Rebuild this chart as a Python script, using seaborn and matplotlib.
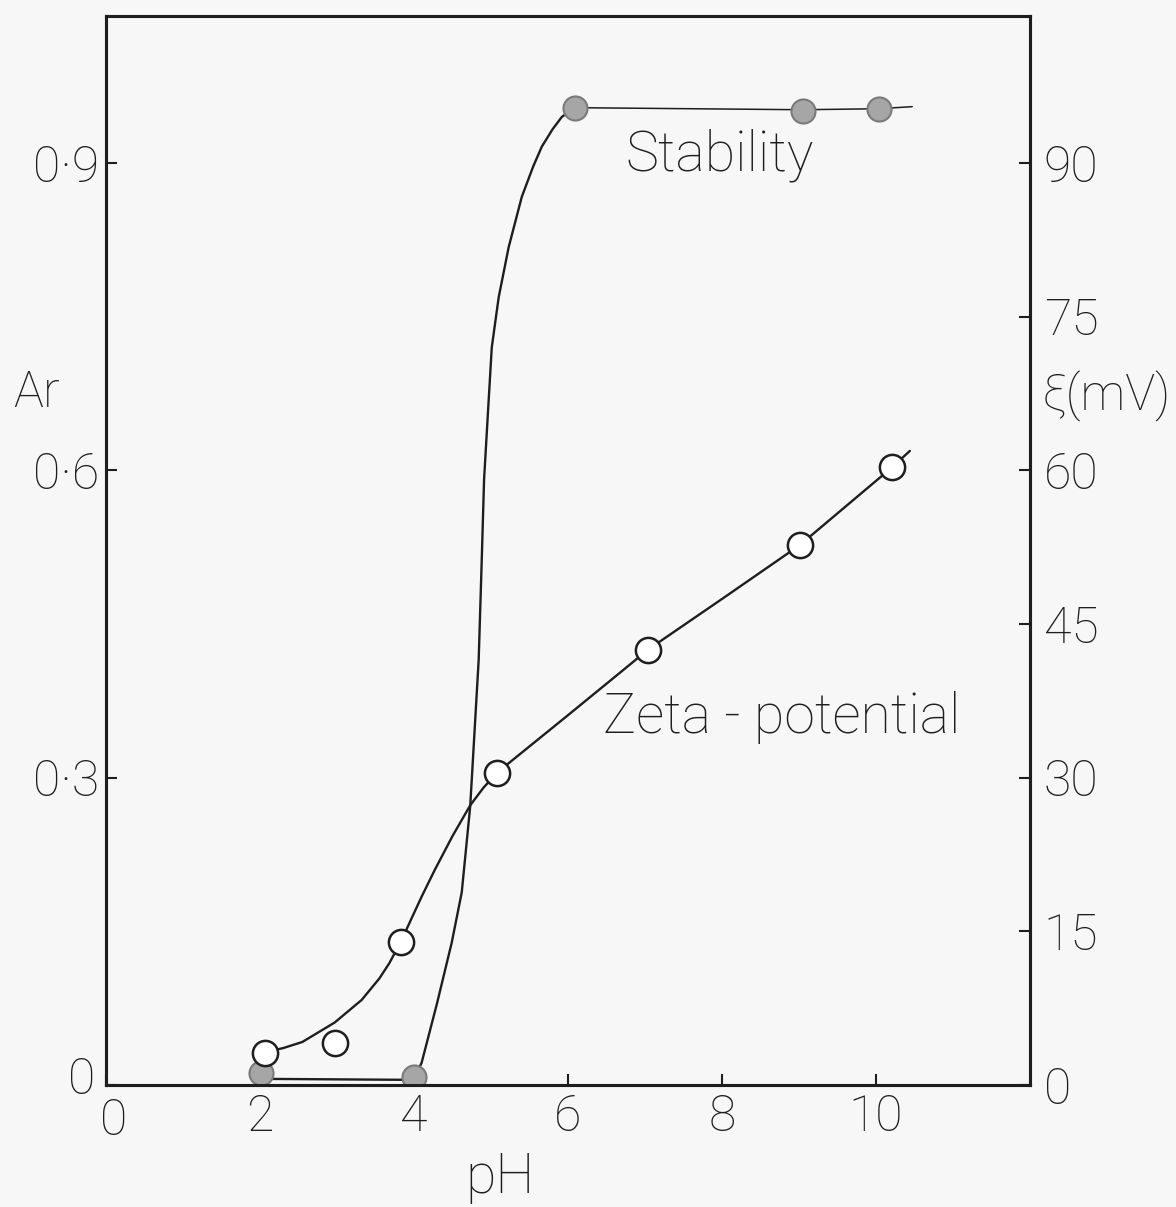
import matplotlib
matplotlib.use("Agg")
import matplotlib.pyplot as plt
import matplotlib.transforms as mtransforms
import seaborn as sns

sns.set_theme(style="ticks")
plt.rcParams['font.family'] = ['Roboto', 'DejaVu Sans']
plt.rcParams['font.weight'] = 'light'

ink = "#1e1e1e"
paper = "#f7f7f7"
dot_fill = "#a6a6a6"
dot_edge = "#7a7a7a"

# stability (Ar) measurements, filled circles
stab_ph = [2.01, 4.00, 6.09, 9.05, 10.04]
stab_ar = [0.012, 0.008, 0.954, 0.951, 0.953]

# hand-drawn stability curve
stab_curve_ph = [2.01, 4.00, 4.10, 4.30, 4.49, 4.62, 4.73, 4.84, 4.88, 4.91, 4.96,
                 5.01, 5.10, 5.23, 5.40, 5.55, 5.66, 5.80, 5.92, 6.09]
stab_curve_ar = [0.006, 0.005, 0.022, 0.080, 0.139, 0.188, 0.272, 0.415, 0.513, 0.591, 0.656,
                 0.720, 0.769, 0.818, 0.867, 0.897, 0.916, 0.933, 0.945, 0.954]
# flat plateau after pH 6
plateau_ph = [6.09, 9.05, 10.04, 10.47]
plateau_ar = [0.954, 0.952, 0.953, 0.955]

# zeta potential measurements (mV), open circles
zeta_ph = [2.06, 2.97, 3.83, 5.08, 7.04, 9.01, 10.21]
zeta_mv = [3.1, 4.1, 14.0, 30.5, 42.5, 52.7, 60.3]

# hand-drawn zeta curve
zeta_curve_ph = [2.06, 2.30, 2.55, 2.97, 3.32, 3.55, 3.68, 3.83, 3.94, 4.10, 4.27, 4.50, 4.73,
                 4.90, 5.08, 6.00, 6.70, 7.04, 8.03, 9.01, 10.21, 10.44]
zeta_curve_mv = [3.2, 3.6, 4.2, 6.1, 8.3, 10.4, 11.9, 14.0, 15.8, 18.4, 21.0, 24.3, 27.3,
                 29.0, 30.5, 36.1, 40.4, 42.5, 47.6, 52.7, 60.3, 61.9]

x_ticks = [0, 2, 4, 6, 8, 10]
ar_ticks = [0, 0.3, 0.6, 0.9]
ar_tick_labels = ["0", "0·3", "0·6", "0·9"]
mv_ticks = [0, 15, 30, 45, 60, 75, 90]

fs = 36
fs_note = 40

fig = plt.figure(figsize=(11.76, 12.07), dpi=100, facecolor=paper)
ax = fig.add_axes([106 / 1176, 1 - 1085 / 1207, 924 / 1176, 1069 / 1207])
ax.set_facecolor(paper)

sns.lineplot(x=stab_curve_ph, y=stab_curve_ar, sort=False, estimator=None,
             color=ink, linewidth=1.7, ax=ax)
sns.lineplot(x=plateau_ph, y=plateau_ar, sort=False, estimator=None,
             color=ink, linewidth=1.1, ax=ax)
sns.scatterplot(x=stab_ph, y=stab_ar, s=300, color=dot_fill,
                edgecolor=dot_edge, linewidth=1.5, zorder=5, ax=ax)

ax.set_xlim(0, 12)
ax.set_ylim(0, 1.0435)
ax.set_xticks(x_ticks)
ax.set_xticklabels([str(t) for t in x_ticks], fontsize=fs)
ax.set_yticks(ar_ticks)
ax.set_yticklabels(ar_tick_labels, fontsize=fs)
ax.tick_params(axis="y", direction="in", length=8, width=1.5, colors=ink, pad=5)
ax.tick_params(axis="x", direction="in", length=8, width=1.5, colors=ink, pad=6)

ax2 = ax.twinx()
sns.lineplot(x=zeta_curve_ph, y=zeta_curve_mv, sort=False, estimator=None,
             color=ink, linewidth=1.7, ax=ax2)
sns.scatterplot(x=zeta_ph, y=zeta_mv, s=330, color="white",
                edgecolor=ink, linewidth=1.8, zorder=5, ax=ax2)
ax2.set_ylim(0, 104.35)
ax2.set_yticks(mv_ticks)
ax2.set_yticklabels([str(t) for t in mv_ticks], fontsize=fs)
ax2.tick_params(direction="in", length=8, width=1.5, colors=ink, pad=10)

for a in (ax, ax2):
    for sp in a.spines.values():
        sp.set_visible(True)
        sp.set_linewidth(2.2)
        sp.set_color(ink)
    a.set_xlabel("")
    a.set_ylabel("")
    for lab in a.get_xticklabels() + a.get_yticklabels():
        lab.set_fontweight("light")

# the two zeros at the corner sit apart in the original
y0 = ax.get_yticklabels()[0]
y0.set_transform(y0.get_transform() + mtransforms.ScaledTranslation(-4 / 100, 10 / 100, fig.dpi_scale_trans))
x0 = ax.get_xticklabels()[0]
x0.set_transform(x0.get_transform() + mtransforms.ScaledTranslation(8 / 100, -4 / 100, fig.dpi_scale_trans))

ax.text(7.97, 0.908, "Stability", fontsize=fs_note, color=ink, ha="center", va="center",
        fontweight="light")
ax.text(8.77, 0.359, "Zeta - potential", fontsize=fs_note, color=ink, ha="center", va="center",
        fontweight="light")

fig.text(37 / 1176, 1 - 393 / 1207, "Ar", fontsize=fs, color=ink, ha="center", va="center",
         fontweight="light")
fig.text(1106 / 1176, 1 - 396 / 1207, "ξ(mV)", fontsize=fs, color=ink, ha="center", va="center",
         fontweight="light")
fig.text(500 / 1176, 1 - 1178 / 1207, "pH", fontsize=fs + 4, color=ink, ha="center", va="center",
         fontweight="light")

fig.savefig("out.png", dpi=100, facecolor=paper)
